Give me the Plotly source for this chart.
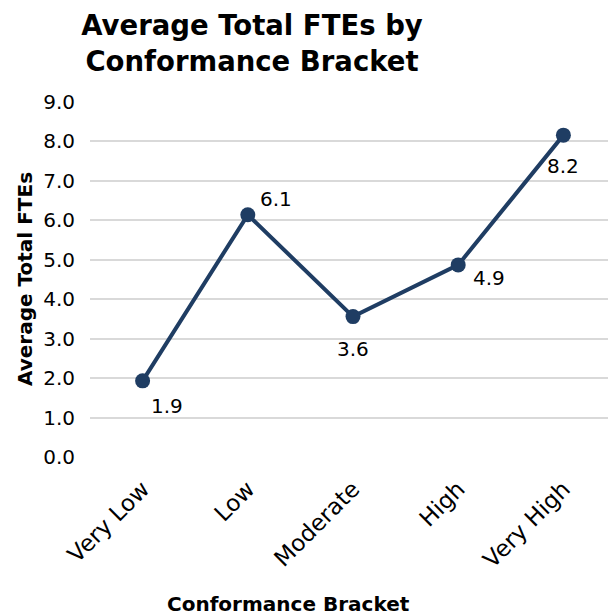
import plotly.graph_objects as go

categories = ["Very Low", "Low", "Moderate", "High", "Very High"]
avg_ftes = [1.93, 6.14, 3.56, 4.87, 8.16]
y_ticks = [0, 1, 2, 3, 4, 5, 6, 7, 8, 9]

# label offsets in pixels (style only)
label_shift = [(24, -25), (28, 16), (0, -32), (31, -13), (0, -31)]

FONT = "DejaVu Sans"
NAVY = "#1F3D63"

# page body has an 8px margin; figure is sized to fit the 616x615 window
W, H = 608, 607
L, T, B = 82, 94, 158
PW, PH = W - L, H - T - B

fig = go.Figure()
fig.add_trace(go.Scatter(
    x=categories, y=avg_ftes, mode="lines+markers",
    line=dict(color=NAVY, width=4),
    marker=dict(color=NAVY, size=15),
    hoverinfo="skip", showlegend=False,
))

for c, v, (dx, dy) in zip(categories, avg_ftes, label_shift):
    fig.add_annotation(x=c, y=v, text=f"{v:.1f}", showarrow=False,
                       xshift=dx, yshift=dy,
                       font=dict(family=FONT, size=20, color="#000000"))

fig.add_annotation(xref="paper", yref="paper", x=(288 - 8 - L) / PW, y=-(604 - 457) / PH,
                   text="<b>Conformance Bracket</b>", showarrow=False,
                   xanchor="center", yanchor="middle",
                   font=dict(family=FONT, size=20, color="#000000"))
fig.add_annotation(xref="paper", yref="paper", x=-(90 - 25) / PW, y=(457 - 279) / PH,
                   text="<b>Average Total FTEs</b>", showarrow=False, textangle=-90,
                   xanchor="center", yanchor="middle",
                   font=dict(family=FONT, size=20, color="#000000"))

fig.update_layout(
    width=W, height=H,
    margin=dict(l=L, r=0, t=T, b=B),
    paper_bgcolor="white", plot_bgcolor="white",
    title=dict(text="<b>Average Total FTEs by<br>Conformance Bracket</b>",
               x=(252 - 8) / W, xanchor="center", y=1 - 27 / H, yanchor="middle",
               font=dict(family=FONT, size=27.5, color="#000000")),
    xaxis=dict(type="category", range=[-0.5, 4.5], tickangle=-45,
               showgrid=False, showline=False, zeroline=False, ticks="",
               ticklabelstandoff=13,
               tickfont=dict(family=FONT, size=23, color="#000000")),
    yaxis=dict(range=[0, 9], tickvals=y_ticks, tickformat=".1f",
               showgrid=True, gridcolor="#D9D9D9", gridwidth=1.5,
               zeroline=False, showline=False, ticks="",
               ticklabelstandoff=14,
               tickfont=dict(family=FONT, size=20, color="#000000")),
)

fig.write_html("out.html")
